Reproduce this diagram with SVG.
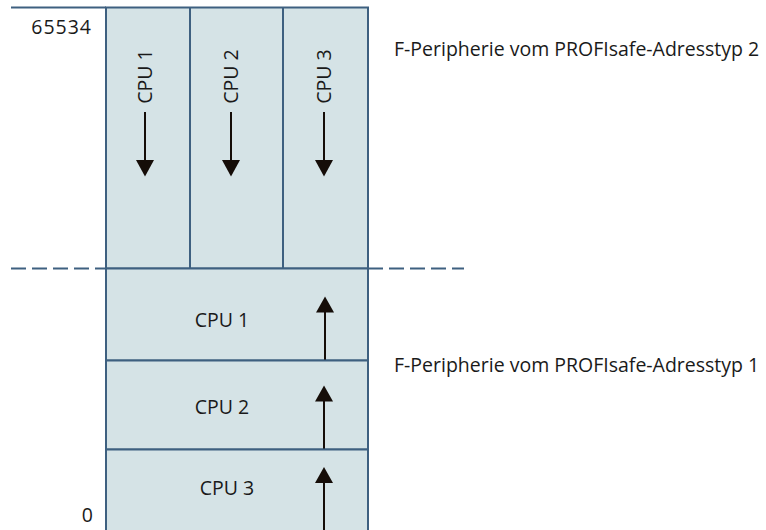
<svg xmlns="http://www.w3.org/2000/svg" width="766" height="530" viewBox="0 0 766 530">
<style>
.box{fill:#d5e3e6;stroke:#3e6080;stroke-width:2}
.ln{stroke:#3e6080;stroke-width:2;fill:none}
.arr{stroke:#150d08;stroke-width:2;fill:none}
.head{fill:#150d08}
text{font-family:"Open Sans","Noto Sans","DejaVu Sans",sans-serif;font-size:19.5px;fill:#1a1a1a}
.num{letter-spacing:1px}
</style>
<rect width="766" height="530" fill="#ffffff"/>
<g id="connectors">
<line class="ln" x1="11" y1="7.5" x2="106" y2="7.5"/>
<line class="ln" x1="11" y1="268.5" x2="464" y2="268.5" stroke-dasharray="15 6"/>
</g>
<g id="typ2-area">
<rect class="box" x="106" y="7.5" width="262" height="261"/>
<line class="ln" x1="190" y1="7.5" x2="190" y2="268.5"/>
<line class="ln" x1="283" y1="7.5" x2="283" y2="268.5"/>
</g>
<g id="typ2-cpu1">
<text transform="translate(152,76.5) rotate(-90)" text-anchor="middle">CPU 1</text>
<line class="arr" x1="145" y1="112" x2="145" y2="162"/>
<polygon class="head" points="136,160 154,160 145,176.5"/>
</g>
<g id="typ2-cpu2">
<text transform="translate(238,76.5) rotate(-90)" text-anchor="middle">CPU 2</text>
<line class="arr" x1="231" y1="112" x2="231" y2="162"/>
<polygon class="head" points="222,160 240,160 231,176.5"/>
</g>
<g id="typ2-cpu3">
<text transform="translate(331,76.5) rotate(-90)" text-anchor="middle">CPU 3</text>
<line class="arr" x1="324" y1="112" x2="324" y2="162"/>
<polygon class="head" points="315,160 333,160 324,176.5"/>
</g>
<g id="typ1-cpu1">
<rect class="box" x="106" y="268.5" width="262" height="92"/>
<text x="222" y="327" text-anchor="middle">CPU 1</text>
<line class="arr" x1="325" y1="310" x2="325" y2="360.5"/>
<polygon class="head" points="316,312.5 334,312.5 325,296.5"/>
</g>
<g id="typ1-cpu2">
<rect class="box" x="106" y="360.5" width="262" height="89"/>
<text x="222" y="414" text-anchor="middle">CPU 2</text>
<line class="arr" x1="324" y1="399" x2="324" y2="449.5"/>
<polygon class="head" points="315,401.5 333,401.5 324,385.5"/>
</g>
<g id="typ1-cpu3">
<rect class="box" x="106" y="449.5" width="262" height="85"/>
<text x="227" y="495" text-anchor="middle">CPU 3</text>
<line class="arr" x1="324" y1="480" x2="324" y2="531"/>
<polygon class="head" points="315,483 333,483 324,467"/>
</g>
<g id="labels">
<text class="num" x="92" y="34" text-anchor="end">65534</text>
<text x="93" y="522" text-anchor="end">0</text>
<text x="394" y="56">F-Peripherie vom PROFIsafe-Adresstyp 2</text>
<text x="394" y="372">F-Peripherie vom PROFIsafe-Adresstyp 1</text>
</g>
</svg>
